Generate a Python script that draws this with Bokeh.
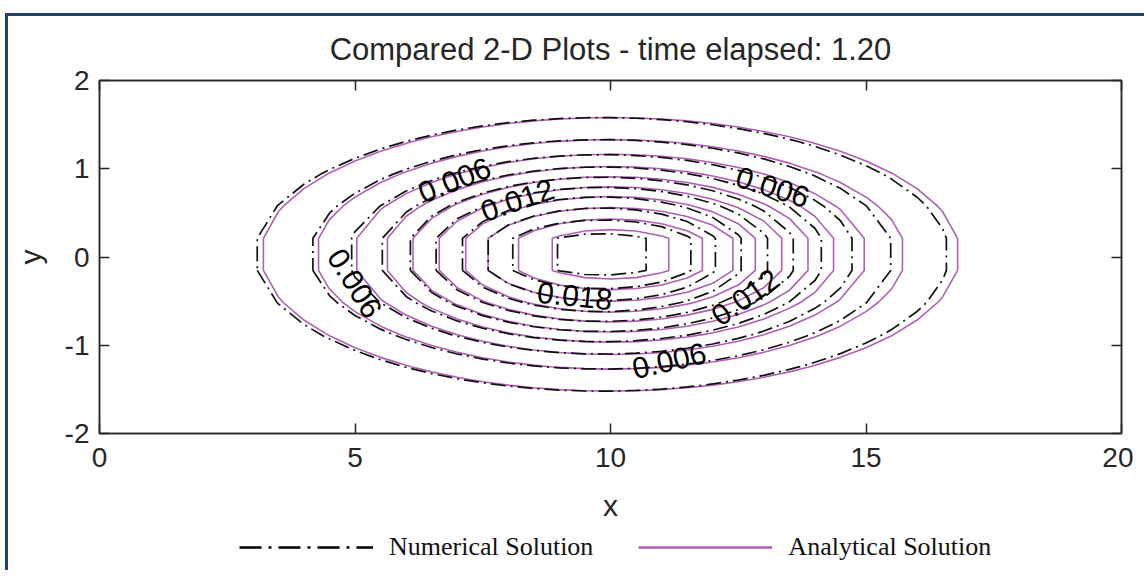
import numpy as np
from bokeh.plotting import figure
from bokeh.layouts import column
from bokeh.models import (Range1d, LinearAxis, FixedTicker, Legend, LegendItem,
                          ColumnDataSource)
from bokeh.core.properties import value
from bokeh.embed import file_html
from bokeh.resources import INLINE

# ---------------- data ----------------
levels = [0.003, 0.006, 0.009, 0.012, 0.015, 0.018, 0.021, 0.024, 0.027, 0.030]
# analytical solution contours: centre and semi-axes per level
ana_cx, ana_cy = 10.0, 0.03
ana_ax = [6.84, 5.77, 5.03, 4.44, 3.95, 3.45, 2.95, 2.55, 2.02, 1.50]
ana_by = [1.55, 1.30, 1.135, 0.995, 0.88, 0.765, 0.655, 0.53, 0.40, 0.28]
# numerical solution contours
num_cx, num_cy = 9.83, 0.03
num_ax = [6.79, 5.71, 4.96, 4.37, 3.83, 3.34, 2.84, 2.37, 1.97, 1.37]
num_by = [1.55, 1.30, 1.13, 0.99, 0.875, 0.76, 0.65, 0.525, 0.39, 0.235]

# contour labels
lab_text = ["0.006", "0.012", "0.006", "0.018", "0.006", "0.012", "0.006"]
lab_x = [6.95, 8.18, 4.99, 9.30, 13.17, 12.64, 11.15]
lab_y = [0.867, 0.640, -0.30, -0.447, 0.788, -0.459, -1.18]
lab_deg = [22, 19, -58, -6, -17.5, 35, 13]

x_ticks = [0, 5, 10, 15, 20]
y_ticks = [-2, -1, 0, 1, 2]

title_text = "Compared 2-D Plots - time elapsed: 1.20"
series_names = ["Numerical Solution", "Analytical Solution"]

PURPLE = "#B060B4"
DARK = "#262626"
NAVY = "#22406E"

# coarse grid on which the contours were traced
XGRID = np.arange(0, 20.001, 0.5)
ROWS = [0.182 + 0.3636 * k for k in range(6)]


def contour_path(cx, cy, a, b):
    pts = []
    for xg in XGRID:
        d = (xg - cx) / a
        if abs(d) < 1:
            h = b * np.sqrt(1 - d * d)
            if h >= ROWS[0]:
                pts += [(xg, cy + h), (xg, cy - h)]
    for r in ROWS:
        if r < b:
            w = a * np.sqrt(1 - (r / b) ** 2)
            pts += [(cx + w, cy + r), (cx - w, cy + r), (cx + w, cy - r), (cx - w, cy - r)]
    pts.sort(key=lambda q: np.arctan2((q[1] - cy) / b, (q[0] - cx) / a))
    pts.append(pts[0])
    return [float(q[0]) for q in pts], [float(q[1]) for q in pts]


ana_xs, ana_ys, num_xs, num_ys = [], [], [], []
for a, b in zip(ana_ax, ana_by):
    xs, ys = contour_path(ana_cx, ana_cy, a, b)
    ana_xs.append(xs); ana_ys.append(ys)
for a, b in zip(num_ax, num_by):
    xs, ys = contour_path(num_cx, num_cy, a, b)
    num_xs.append(xs); num_ys.append(ys)

p = figure(width=1125, height=514, x_range=Range1d(0, 20), y_range=Range1d(-2, 2),
           x_axis_type=None, y_axis_type=None,
           output_backend="svg", toolbar_location=None,
           min_border_left=91, min_border_right=12, min_border_top=64, min_border_bottom=97)
p.grid.visible = False
p.background_fill_color = "white"
p.border_fill_color = "white"
p.outline_line_color = DARK
p.outline_line_width = 1.5

p.title.text = title_text
p.title.align = "center"
p.title.text_font = "Liberation Sans"
p.title.text_font_size = "31px"
p.title.text_font_style = "normal"
p.title.text_color = DARK
p.title.standoff = 27

p.multi_line(xs=ana_xs, ys=ana_ys, line_color=PURPLE, line_width=1.6)
p.multi_line(xs=num_xs, ys=num_ys, line_color="#111111", line_width=1.7, line_dash="15 5 2 5")

src = ColumnDataSource(dict(x=lab_x, y=lab_y, text=lab_text,
                            angle=[float(np.deg2rad(d)) for d in lab_deg]))
p.text(x="x", y="y", text="text", angle="angle", source=src, text_font=value("Liberation Sans"),
       text_font_size=value("30px"), text_align="center", text_baseline="middle", text_color="black")

x_bot = LinearAxis(ticker=FixedTicker(ticks=x_ticks), axis_label="x")
y_left = LinearAxis(ticker=FixedTicker(ticks=y_ticks), axis_label="y")
x_top = LinearAxis(ticker=FixedTicker(ticks=x_ticks))
y_right = LinearAxis(ticker=FixedTicker(ticks=y_ticks))
p.add_layout(x_bot, "below")
p.add_layout(y_left, "left")
p.add_layout(x_top, "above")
p.add_layout(y_right, "right")

for ax in [x_bot, y_left, x_top, y_right]:
    ax.major_tick_in = 10
    ax.major_tick_out = 0
    ax.minor_tick_line_color = None
    ax.axis_line_color = DARK
    ax.axis_line_width = 1.5
    ax.major_tick_line_color = DARK
    ax.major_tick_line_width = 1.5
    ax.major_label_text_font = "Liberation Sans"
    ax.major_label_text_font_size = "28px"
    ax.major_label_text_color = DARK
    ax.axis_label_text_font = "Liberation Sans"
    ax.axis_label_text_font_size = "30px"
    ax.axis_label_text_font_style = "normal"
    ax.axis_label_text_color = DARK

for ax in [x_top, y_right]:
    ax.major_label_text_font_size = "2px"
    ax.major_label_text_color = None
    ax.major_label_standoff = 0

x_bot.major_label_overrides = {t: str(t) for t in x_ticks}
y_left.major_label_overrides = {t: str(t) for t in y_ticks}
x_bot.major_label_standoff = 14
y_left.major_label_standoff = 10
x_bot.axis_label_standoff = 19
y_left.axis_label_standoff = 15

# legend strip under the chart
lg = figure(width=1125, height=40, x_range=Range1d(0, 1), y_range=Range1d(0, 1),
            x_axis_type=None, y_axis_type=None, output_backend="svg", toolbar_location=None,
            min_border=0, outline_line_color=None)
lg.grid.visible = False
leg_num = lg.line([-5, -4], [-5, -5], line_color="black", line_width=2.5, line_dash="22 7 3 7")
leg_ana = lg.line([-5, -4], [-5, -5], line_color=PURPLE, line_width=2.5)
legend = Legend(items=[LegendItem(label=series_names[0], renderers=[leg_num]),
                       LegendItem(label=series_names[1], renderers=[leg_ana])],
                orientation="horizontal", location=(138, 6), glyph_width=134, glyph_height=20,
                label_standoff=16, spacing=45, label_text_font="Liberation Serif",
                label_text_font_size="26px", label_text_color="#111111",
                padding=2, margin=0, border_line_alpha=0, background_fill_alpha=0)
lg.add_layout(legend)

layout = column(p, lg, spacing=0,
                styles={"border-top": f"3px solid {NAVY}", "border-left": f"3px solid {NAVY}",
                        "margin-top": "13px", "margin-left": "5px", "padding-right": "14px"})
open("out.html", "w").write(file_html(layout, INLINE))
